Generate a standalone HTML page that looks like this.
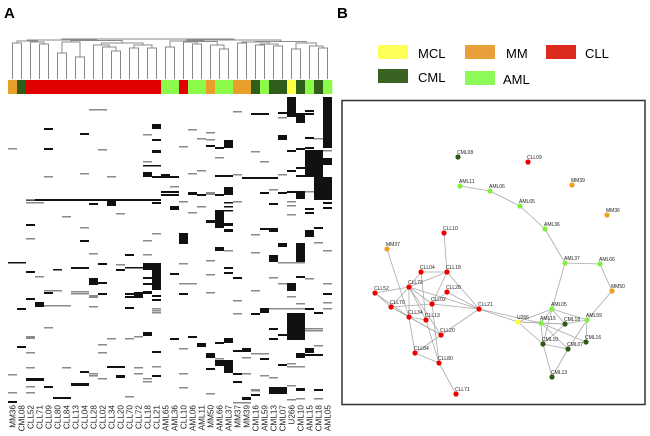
<!DOCTYPE html>
<html><head><meta charset="utf-8"><style>
html,body{margin:0;padding:0;background:#fff;}
svg{display:block;font-family:"Liberation Sans",Arial,sans-serif;}
</style></head><body>
<svg id="fig" width="650" height="436" viewBox="0 0 650 436" xmlns="http://www.w3.org/2000/svg">
<text x="4" y="18" font-size="15" font-weight="bold">A</text>
<text x="337" y="18" font-size="15" font-weight="bold">B</text>
<g id="dendro"></g>
<g id="cbar"></g>
<g id="heat"></g>
<g id="collabels"></g>
<g>
 <rect x="378" y="45" width="30" height="14" fill="#ffff5a"/>
 <text x="418" y="58" font-size="13">MCL</text>
 <rect x="465" y="45" width="30" height="14" fill="#e9a03c"/>
 <text x="506" y="58" font-size="13">MM</text>
 <rect x="546" y="45" width="30" height="14" fill="#dd2a1e"/>
 <text x="585" y="58" font-size="13">CLL</text>
 <rect x="378" y="69" width="30" height="14" fill="#3a6323"/>
 <text x="418" y="82" font-size="13">CML</text>
 <rect x="465" y="71" width="30" height="14" fill="#8cfb5a"/>
 <text x="503" y="84" font-size="13">AML</text>
</g>
<rect x="342" y="100.5" width="303" height="304" fill="none" stroke="#333" stroke-width="1.5"/>
<g id="net"></g>
</svg>
<script>
const NS="http://www.w3.org/2000/svg";
const columns=["MM36","CML08","CLL52","CLL71","CLL09","CLL80","CLL84","CLL13","CLL04","CLL28","CLL02","CLL34","CLL20","CLL70","CLL72","CLL18","CLL21","AML65","AML36","CLL10","AML06","AML11","MM50","AML66","AML37","MM37","MM39","CML16","AML59","CML13","CML07","U266","CML10","AML15","CML18","AML05"];
const classColors={MCL:"#ffff44",MM:"#e9a02a",CLL:"#e00000",CML:"#2f5e1a",AML:"#8cfb4a"};
// heatmap marks: [col, colSpan, row, rowHeight, shade(1 black / 0 gray)]
const cells=[
[9,2,12,1.5,0],[31,1,0,20,1],[30,1,15,2,1],[30,1,20,1.5,0],[32,1,16,10,1],[33,1,13,2,1],[33,1,16,2,1],[35,1,0,51,1],[27,2,16,2,1],[25,1,14,1.5,0],
[4,1,31,2,1],[8,1,36,2,1],[16,1,27,5,1],[15,1,37,1.5,0],[16,1,42,2,1],[20,1,32,1.5,0],[22,1,35,1.5,0],[21,1,41,1.5,0],[22,1,42,1.5,0],[30,1,38,5,1],
[33,1,40,2,1],[34,1,41,1.5,0],[0,1,51,1.5,0],[4,1,51,2,1],[10,1,52,1.5,0],[16,1,53,3,1],[19,1,49,1.5,0],[22,1,48,2,1],[23,1,50,2,1],[24,1,43,8,1],
[31,1,53,2,1],[32,1,51,2,1],[33,1,50,2,1],[33,2,53,27,1],[35,1,53,1.5,0],[35,1,61,7,1],[23,1,60,1.5,0],[27,1,54,1.5,0],[28,1,64,1.5,0],[15,1,64,1.5,0],
[15,2,68,1.5,1],[15,1,75,5,1],[16,3,79,2,1],[17,1,77,2,1],[20,1,76,1.5,0],[21,1,73,1.5,0],[23,2,78,2,1],[25,1,77,1.5,0],[26,4,80,2,1],[30,1,77,1.5,0],
[31,1,73,2,1],[32,1,70,2,1],[32,2,78,2,1],[4,1,79,1.5,0],[8,1,76,1.5,0],[11,1,79,1.5,0],[17,2,94,2,1],[17,2,97,2,1],[18,1,89,1.5,0],
[20,1,95,3,1],[21,1,97,2,1],[22,1,95,3,0],[23,1,97,2,1],[24,1,90,8,1],[29,1,92,1.5,0],[28,1,95,2,1],[30,1,95,2,1],[31,1,94,2,1],[32,1,94,8,1],[33,1,94,1.5,0],[34,2,80,23,1],
[2,15,102,2,1],[11,1,102,7,1],[9,1,106,2,1],[2,1,102,1.5,0],[2,2,105,1.5,0],[16,1,105,2,1],[18,1,109,4,1],[19,1,104,1.5,0],[20,1,115,1.5,0],[21,1,109,1.5,0],
[23,1,113,18,1],[22,1,123,3,1],[24,1,105,1.5,1],[24,1,109,1.5,1],[24,1,113,1.5,1],[24,1,126,3,1],[24,1,132,3,1],[25,1,104,1.5,0],[29,1,106,2,1],
[31,1,104,1.5,0],[31,1,108,1.5,0],[31,1,117,1.5,0],[33,1,111,2,1],[33,1,115,2,1],[35,1,105,2,1],[35,1,110,2,1],[6,1,119,1.5,0],[12,1,116,1.5,0],
[2,1,127,2,1],[8,1,130,1.5,0],[8,1,143,2,1],[2,1,141,1.5,0],[15,1,143,1.5,0],[16,1,136,1.5,0],[19,1,136,10,1],[27,1,137,1.5,0],[28,1,131,2,1],[29,1,131,4,1],
[33,1,133,7,1],[34,1,130,2,1],[30,1,147,2,1],[32,1,146,2,1],
[19,1,143,4,1],[9,1,156,1.5,0],[13,1,157,2,1],[15,1,157,1.5,0],[0,2,165,1.5,1],[2,1,174,2,1],[3,1,179,1.5,0],[5,1,172,1.5,1],[7,2,170,2,1],[10,1,166,2,1],
[12,1,167,1.5,0],[12,1,172,2,1],[13,2,170,1.5,1],[15,2,166,7,1],[16,1,166,27,1],[15,1,180,2,1],[15,1,186,2,1],[19,1,166,1.5,0],[18,1,176,2,1],[22,1,163,1.5,0],
[23,1,150,4,1],[24,1,153,1.5,0],[27,1,155,1.5,0],[29,1,158,7,1],[30,1,146,4,1],[32,1,146,19,1],[30,3,165,1.5,0],[34,1,145,1.5,0],[35,1,153,1.5,0],
[24,1,170,2,1],[24,1,175,2,1],[22,1,177,1.5,0],[25,1,180,2,1],[9,1,181,7,1],[10,1,185,2,1],[4,2,193,1.5,0],[4,1,195,2,1],[7,2,194,1.5,0],[7,2,196,1.5,0],
[9,1,198,3,0],[10,1,196,2,1],[14,1,195,6,1],[15,1,194,3,1],[13,1,196,2,1],[13,1,199,2,1],[16,1,198,2,1],[16,1,202,2,1],[19,2,186,1.5,0],[19,1,196,2,1],
[22,1,195,1.5,0],[27,1,193,1.5,0],[29,1,180,1.5,0],[30,1,186,1.5,0],[31,1,186,8,1],[32,1,179,2,1],[33,1,181,1.5,0],[35,1,186,1.5,0],[35,1,196,2,1],
[35,1,205,1.5,0],[35,1,211,1.5,0],[2,1,201,2,1],[3,1,205,5,1],[4,3,208,1.5,0],[1,1,211,2,1],[9,1,209,1.5,0],[13,1,210,2,1],[16,1,211,1.5,0],[16,1,213,1.5,0],
[16,1,215,1.5,0],[31,1,199,1.5,0],[32,1,206,1.5,0],[25,1,203,1.5,0],[25,1,216,1.5,0],[27,1,216,2,1],[28,1,211,5,1],[29,4,211,1.5,0],[33,1,211,2,1],
[34,1,215,2,1],[31,2,216,27,1],[29,1,231,2,1],[29,1,241,2,1],[30,1,237,2,1],[33,2,231,1.5,0],[33,2,233,1.5,0],[4,1,230,1.5,0],[2,1,239,3,0],[1,1,249,2,1],
[2,1,255,1.5,0],[10,1,247,1.5,0],[10,1,255,1.5,0],[11,1,241,1.5,0],[13,1,241,1.5,0],[14,1,239,1.5,0],[15,1,235,4,1],[16,1,254,2,1],[18,1,241,2,1],
[19,1,251,1.5,0],[20,1,239,2,1],[21,1,246,4,1],[23,1,245,2,1],[24,1,241,5,1],[22,1,256,5,1],[23,1,261,1.5,0],[23,1,263,6,1],[24,1,263,13,1],[22,1,271,2,1],
[25,1,253,2,1],[26,1,251,4,1],[26,1,260,1.5,0],[27,2,256,1.5,0],[28,1,261,2,1],[25,1,276,2,1],[25,1,284,2,1],[31,1,266,1.5,0],[31,2,269,1.5,0],[32,1,256,5,1],
[33,1,251,5,1],[33,2,257,2,1],[34,1,248,1.5,0],[30,1,267,2,1],[2,1,270,1.5,0],[6,1,270,1.5,0],[8,1,274,2,1],[9,1,276,1.5,0],[9,1,278,1.5,0],[11,2,269,2,1],
[12,1,278,3,1],[10,1,281,1.5,0],[14,1,270,1.5,0],[14,1,276,1.5,0],[15,1,281,1.5,0],[15,1,284,1.5,0],[16,1,269,1.5,0],[16,1,278,2,1],[0,1,277,1.5,0],
[2,2,281,3,1],[2,1,289,1.5,0],[4,1,289,2,1],[7,2,286,3,1],[19,1,276,1.5,0],[19,1,290,1.5,0],[26,1,276,1.5,0],[28,1,278,1.5,0],[29,1,280,1.5,0],
[27,1,292,1.5,0],[29,2,291,3,1],[31,1,288,1.5,0],[32,1,291,2,1],[34,1,292,2,1],
[0,1,295,1.5,0],[0,1,304,2,1],[2,1,295,1.5,0],[5,2,300,2,1],[13,1,299,1.5,0],[22,1,296,1.5,0],[25,2,305,1.5,0],[26,1,300,3,1],[27,1,293,1.5,0],
[27,1,297,2,1],[29,2,290,7,1],[31,1,302,1.5,0],[32,1,292,2,1],[32,1,301,1.5,0],[34,1,301,1.5,0]
];
// dendrogram: [left, right, mergeHeightY]
const A=[0,1,43], B=[2,[3,4,44],42], C=[[5,6,53],[7,8,57],42];
const D=[[9,[10,[11,12,51],47],45],[[13,14,48],[15,16,48],45],43];
const E=[17,18,47], F=[[19,[20,21,44],42],[22,[23,24,49],45],41.5];
const G=[[25,26,43],[[27,28,45],[29,30,46],44],42], I=[[31,32,49],[33,[34,35,48],46],43];
const tree=[[[A,B,41],[C,D,40.5],40],[[E,F,41],[G,I,41.5],40],39];

// network
const nodeNames=["CML08","CLL09","AML11","AML06","AML65","MM39","MM36","AML36","CLL10","MM37","AML37","AML66","CLL04","CLL18","CLL72","CLL52","CLL28","CLL02","CLL70","CLL21","MM50","AML05","U266","AML15","CML18","AML59","CLL34","CLL13","CLL20","CML10","CML16","CML07","CLL84","CLL80","CML13","CLL71"];
const nodeX=[458,528,460,490,520,572,607,545,444,387,565,600,421,447,409,375,447,432,391,479,612,552,518,541,565,587,409,426,441,543,586,568,415,439,552,456];
const nodeY=[157,162,186,191,206,185,215,229,233,249,263,264,272,272,287,293,292,304,307,309,291,309,322,323,324,320,317,320,335,344,342,349,353,363,377,394];
const nodeClass=["CML","CLL","AML","AML","AML","MM","MM","AML","CLL","MM","AML","AML","CLL","CLL","CLL","CLL","CLL","CLL","CLL","CLL","MM","AML","MCL","AML","CML","AML","CLL","CLL","CLL","CML","CML","CML","CLL","CLL","CML","CLL"];
const edges=[["AML11","AML06"],["AML06","AML65"],["AML65","AML36"],["AML36","AML37"],["AML37","AML66"],["AML66","MM50"],["MM50","AML59"],["AML37","AML05"],["MM37","CLL34"],
["CLL10","CLL18"],["CLL04","CLL18"],["CLL04","CLL72"],["CLL18","CLL72"],["CLL18","CLL02"],["CLL18","CLL21"],["CLL72","CLL52"],["CLL72","CLL70"],["CLL72","CLL34"],["CLL72","CLL13"],["CLL72","CLL02"],["CLL72","CLL21"],["CLL72","CLL20"],["CLL04","CLL13"],["CLL52","CLL70"],["CLL52","CLL34"],["CLL70","CLL02"],["CLL70","CLL20"],["CLL34","CLL13"],["CLL34","CLL20"],["CLL34","CLL84"],["CLL02","CLL28"],["CLL02","CLL21"],["CLL28","CLL21"],["CLL02","CLL80"],["CLL13","CLL80"],["CLL20","CLL21"],["CLL20","CLL84"],["CLL84","CLL80"],["CLL80","CLL71"],
["CLL21","U266"],["CLL21","AML15"],["U266","AML05"],["U266","AML15"],["U266","CML18"],["U266","CML10"],["AML05","AML15"],["AML05","CML18"],["AML05","CML10"],["AML05","AML59"],["AML15","CML18"],["AML15","CML10"],["AML15","CML07"],["AML15","CML16"],["CML18","AML59"],["CML18","CML10"],["AML59","CML16"],["AML59","CML07"],["CML10","CML07"],["CML10","CML13"],["CML07","CML13"]];
const nodeColors={MCL:"#ffff33",MM:"#f0a020",CLL:"#ee0000",CML:"#2a5a14",AML:"#80f040"};

// scales
const hx0=8, colW=9, hy0=97, rowH=1;
const xCol=c=>hx0+c*colW;
const xCenter=c=>hx0+c*colW+colW/2;
const yRow=r=>hy0+r*rowH;
function classOf(n){return n.replace(/[0-9]/g,"")==="U"?"MCL":n.replace(/[0-9]/g,"");}
function el(t,a,p){const e=document.createElementNS(NS,t);for(const k in a)e.setAttribute(k,a[k]);p.appendChild(e);return e;}

// dendrogram
const dg=document.getElementById("dendro");
const leafY=79;
function drawTree(n){
  if(typeof n==="number") return {x:xCenter(n),y:leafY};
  const l=drawTree(n[0]), r=drawTree(n[1]), h=n[2];
  const p=el("path",{d:`M${l.x},${l.y}V${h}H${r.x}V${r.y}`,fill:"none",stroke:"#888","stroke-width":1},dg);
  
  
  return {x:(l.x+r.x)/2,y:h};
}
drawTree(tree);

// color bar + labels
const cb=document.getElementById("cbar"), cl=document.getElementById("collabels");
columns.forEach((c,i)=>{
  const r=el("rect",{x:xCol(i),y:80,width:colW+0.3,height:14,fill:classColors[classOf(c)]},cb);
  
  
  const t=el("text",{x:0,y:0,"font-size":8.2,"text-anchor":"end",transform:`translate(${xCenter(i)+3},405) rotate(-90)`,fill:"#222"},cl);
  t.textContent=c;
  
  
});

// heatmap
const hg=document.getElementById("heat");
cells.forEach(d=>{
  const r=el("rect",{x:xCol(d[0]),y:yRow(d[2]),width:d[1]*colW,height:d[3]*rowH,fill:d[4]?"#111":"#8a8a8a"},hg);
  
  
});

// network
const ng=document.getElementById("net");
const idx={};nodeNames.forEach((n,i)=>idx[n]=i);
edges.forEach(e=>{
  const a=idx[e[0]],b=idx[e[1]];
  const l=el("line",{x1:nodeX[a],y1:nodeY[a],x2:nodeX[b],y2:nodeY[b],stroke:"#aaa","stroke-width":0.8},ng);
  
  
});
nodeNames.forEach((n,i)=>{
  const c=el("circle",{cx:nodeX[i],cy:nodeY[i],r:2.6,fill:nodeColors[nodeClass[i]]},ng);
  
  
  const t=el("text",{x:nodeX[i]-1,y:nodeY[i]-3,"font-size":5,fill:"#222"},ng);
  t.textContent=n;
  
  
});
</script>
</body></html>
